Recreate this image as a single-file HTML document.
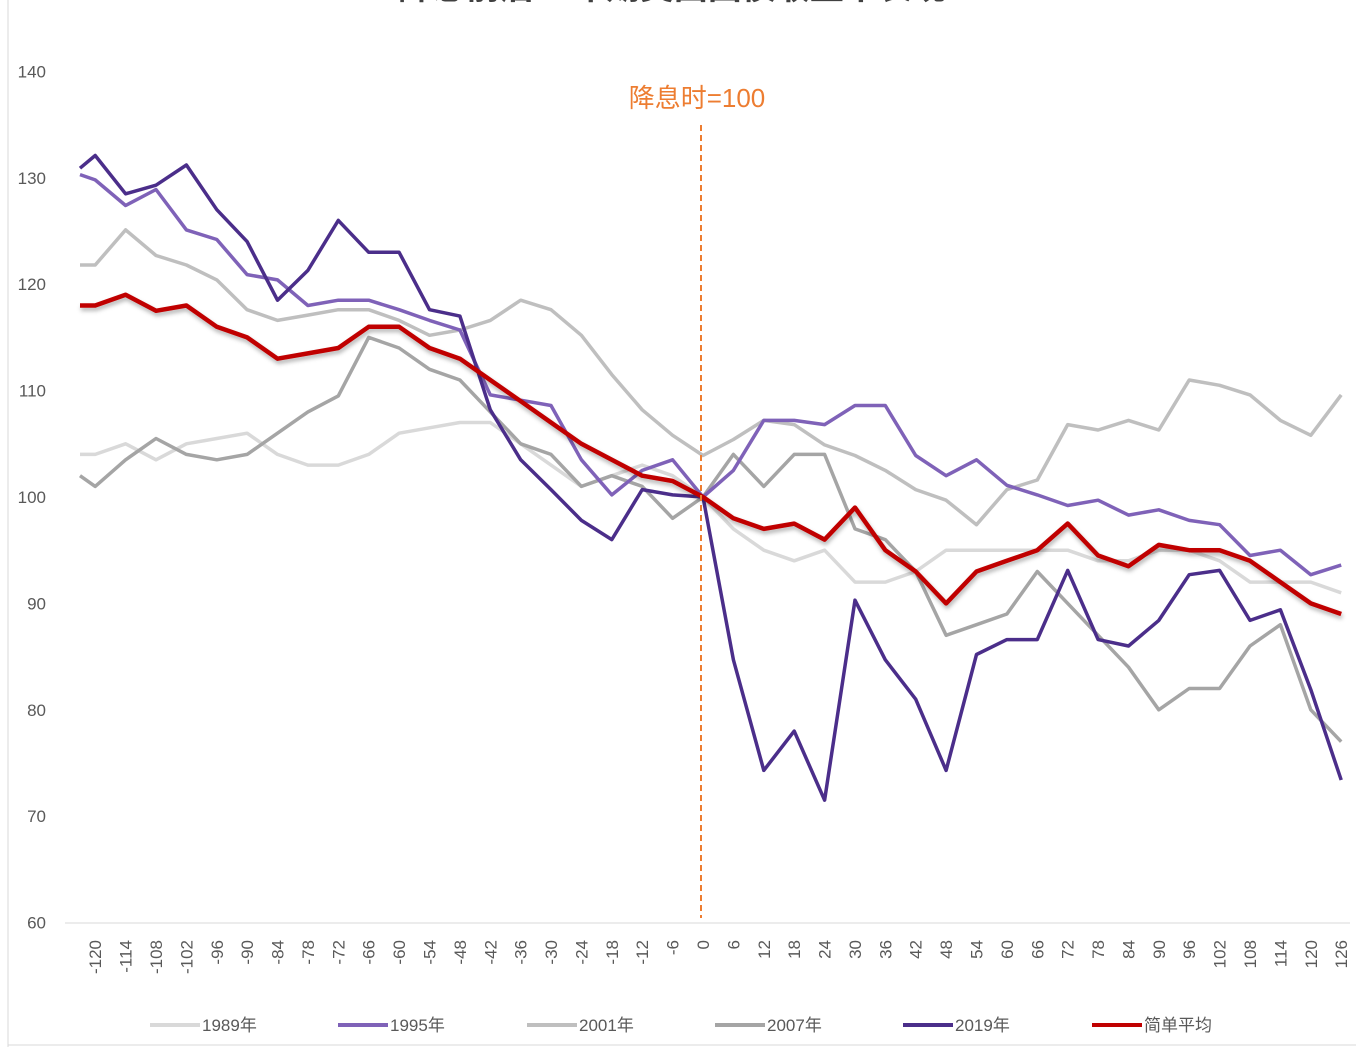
<!DOCTYPE html>
<html><head><meta charset="utf-8"><style>
body{margin:0;background:#fff;width:1356px;height:1047px;overflow:hidden;font-family:"Liberation Sans","Noto Sans CJK SC",sans-serif}
</style></head><body>
<svg id="chart" width="1356" height="1047" xmlns="http://www.w3.org/2000/svg">
<defs><filter id="sh" x="-5%" y="-5%" width="110%" height="120%"><feDropShadow dx="1" dy="3" stdDeviation="2" flood-color="#000" flood-opacity="0.3"/></filter></defs>
<line x1="8" y1="0" x2="8" y2="1047" stroke="#d9d9d9"/>
<line x1="8" y1="1045" x2="1356" y2="1045" stroke="#d9d9d9"/>
<text x="672" y="-1" text-anchor="middle" font-size="34" font-weight="bold" fill="#404040" font-family="'Liberation Sans','Noto Sans CJK SC',sans-serif">降息前后10年期美国国债收益率表现</text>
<g id="yaxis"></g><g id="xaxis"></g><g id="series"></g><g id="legend"></g>
<line x1="701" y1="125" x2="701" y2="918" stroke="#ed7d31" stroke-width="2" stroke-dasharray="6,4"/>
<text x="697" y="107" text-anchor="middle" font-size="26" fill="#ed7d31" font-family="'Liberation Sans','Noto Sans CJK SC',sans-serif">降息时=100</text>
</svg>
<script>
const months=[-123,-120,-114,-108,-102,-96,-90,-84,-78,-72,-66,-60,-54,-48,-42,-36,-30,-24,-18,-12,-6,0,6,12,18,24,30,36,42,48,54,60,66,72,78,84,90,96,102,108,114,120,126];
const yTicks=[60,70,80,90,100,110,120,130,140];
const xTicks=[-120,-114,-108,-102,-96,-90,-84,-78,-72,-66,-60,-54,-48,-42,-36,-30,-24,-18,-12,-6,0,6,12,18,24,30,36,42,48,54,60,66,72,78,84,90,96,102,108,114,120,126];
const s1989=[104,104,105,103.5,105,105.5,106,104,103,103,104,106,106.5,107,107,105,103,101,102,103,102,100,97,95,94,95,92,92,93,95,95,95,95,95,94,94,95,95,94,92,92,92,91];
const s1995=[130.3,129.8,127.4,128.9,125.1,124.2,120.9,120.4,118,118.5,118.5,117.6,116.6,115.7,109.6,109.1,108.6,103.5,100.2,102.5,103.5,100,102.5,107.2,107.2,106.8,108.6,108.6,103.9,102,103.5,101.1,100.2,99.2,99.7,98.3,98.8,97.8,97.4,94.5,95,92.7,93.6];
const s2001=[121.8,121.8,125.1,122.7,121.8,120.4,117.6,116.6,117.1,117.6,117.6,116.6,115.2,115.7,116.6,118.5,117.6,115.2,111.5,108.2,105.8,103.9,105.4,107.2,106.8,104.9,103.9,102.5,100.7,99.7,97.4,100.7,101.6,106.8,106.3,107.2,106.3,111,110.5,109.6,107.2,105.8,109.6];
const s2007=[102,101,103.5,105.5,104,103.5,104,106,108,109.5,115,114,112,111,108,105,104,101,102,101,98,100,104,101,104,104,97,96,93,87,88,89,93,90,87,84,80,82,82,86,88,80,77];
const s2019=[130.9,132.1,128.5,129.3,131.2,127,124,118.5,121.3,126,123,123,117.6,117,108.2,103.5,100.7,97.8,96,100.7,100.2,100,84.7,74.3,78,71.5,90.3,84.7,81,74.3,85.2,86.6,86.6,93.1,86.6,86,88.4,92.7,93.1,88.4,89.4,81.9,73.4];
const sAvg=[118,118,119,117.5,118,116,115,113,113.5,114,116,116,114,113,111,109,107,105,103.5,102,101.5,100,98,97,97.5,96,99,95,93,90,93,94,95,97.5,94.5,93.5,95.5,95,95,94,92,90,89];
const NS='http://www.w3.org/2000/svg';
const X=m=>703+m*5.065, Y=v=>497-(v-100)*10.64;
function mk(t,a){const e=document.createElementNS(NS,t);for(const k in a)e.setAttribute(k,a[k]);return e;}
const ya=document.getElementById('yaxis');
yTicks.forEach(v=>{const t=mk('text',{x:46,y:Y(v)+6,'text-anchor':'end','font-size':17,fill:'#595959'});t.textContent=v;


ya.appendChild(t);});
const xa=document.getElementById('xaxis');
const ax=mk('line',{x1:65,y1:923,x2:1350,y2:923,stroke:'#d9d9d9','stroke-width':1});


xa.appendChild(ax);
xTicks.forEach(m=>{const x=X(m)+6;const t=mk('text',{x:0,y:0,transform:`translate(${x},940) rotate(-90)`,'text-anchor':'end','font-size':17,fill:'#595959'});t.textContent=m;


xa.appendChild(t);});
const series=[['1989年',s1989,'#d9d9d9',3.5,'series-1989'],['2001年',s2001,'#bfbfbf',3.5,'series-2001'],['2007年',s2007,'#a5a5a5',3.5,'series-2007'],['1995年',s1995,'#7f62b8',3.5,'series-1995'],['2019年',s2019,'#4b2e8a',3.5,'series-2019'],['简单平均',sAvg,'#c00000',4.5,'series-average']];
const sg=document.getElementById('series');
series.forEach(s=>{const d=s[1].map((v,i)=>(i?'L':'M')+X(months[i]).toFixed(1)+','+Y(v).toFixed(1)).join(' ');
const p=mk('path',{d:d,fill:'none',stroke:s[2],'stroke-width':s[3],'stroke-linejoin':'round'});
if(s[4]==='series-average')p.setAttribute('filter','url(#sh)');


sg.appendChild(p);});
const legOrder=[['1989年','#d9d9d9',150],['1995年','#7f62b8',338],['2001年','#bfbfbf',527],['2007年','#a5a5a5',715],['2019年','#4b2e8a',903],['简单平均','#c00000',1092]];
const lg=document.getElementById('legend');
legOrder.forEach(l=>{const g=mk('g',{});


g.appendChild(mk('line',{x1:l[2],y1:1025,x2:l[2]+50,y2:1025,stroke:l[1],'stroke-width':4}));
const t=mk('text',{x:l[2]+52,y:1031,'font-size':17,fill:'#595959'});t.textContent=l[0];g.appendChild(t);lg.appendChild(g);});
</script>
</body></html>
